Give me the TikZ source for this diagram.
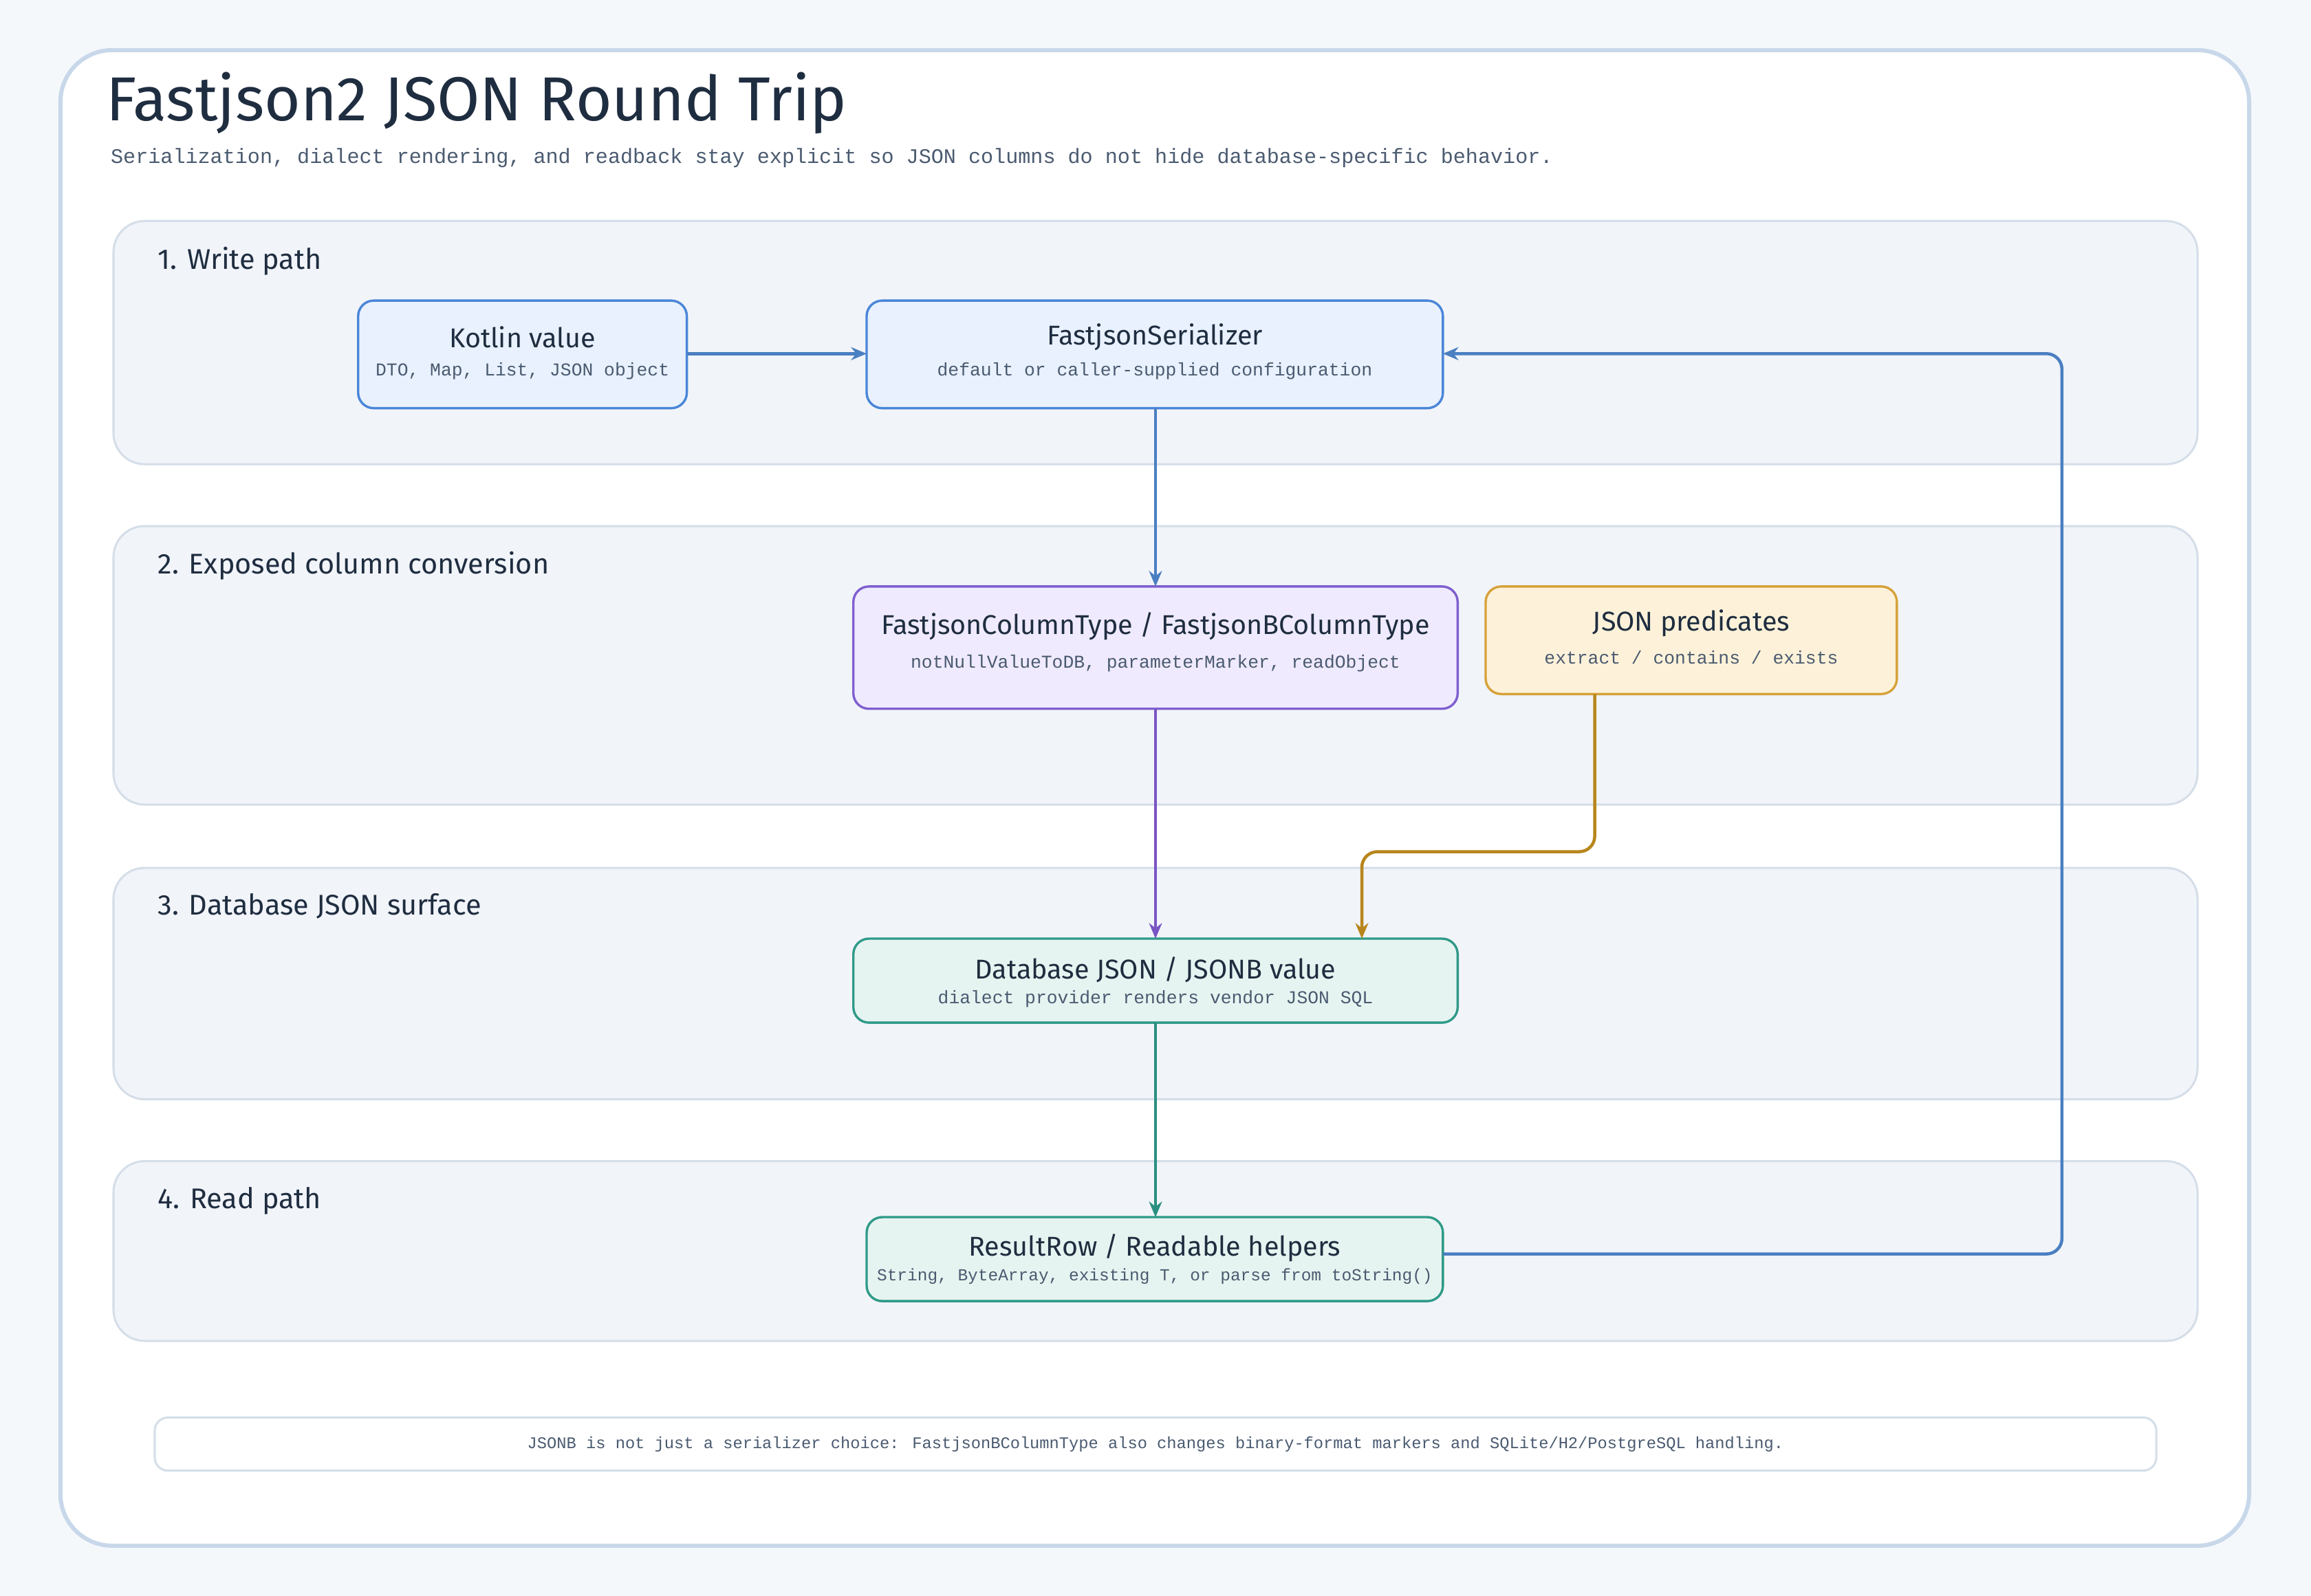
\documentclass[tikz,border=0pt]{standalone}
\usepackage{fontspec}
\setmainfont{Fira Sans}
\newfontfamily\mono{Liberation Mono}
\usetikzlibrary{arrows.meta}
\definecolor{bg}{HTML}{F5F8FB}
\definecolor{frame}{HTML}{C8D8EA}
\definecolor{lanef}{HTML}{F1F4F9}
\definecolor{lanes}{HTML}{D5DEE8}
\definecolor{ink}{HTML}{1F2D40}
\definecolor{sub}{HTML}{4A5A70}
\definecolor{bluef}{HTML}{E8F1FD}\definecolor{blues}{HTML}{4A86D8}\definecolor{bluea}{HTML}{4A7FC1}
\definecolor{purf}{HTML}{EFEAFD}\definecolor{purs}{HTML}{7F5FCF}\definecolor{pura}{HTML}{7A55C4}
\definecolor{orf}{HTML}{FDF2D9}\definecolor{ors}{HTML}{D6A23A}\definecolor{ora}{HTML}{B8861C}
\definecolor{tef}{HTML}{E6F4F1}\definecolor{tes}{HTML}{2F9A88}\definecolor{tea}{HTML}{2A8F80}
\tikzset{
 lane/.style={draw=lanes,fill=lanef,rounded corners=12pt,line width=0.8pt},
 lanelab/.style={anchor=west,text=ink,font=\fontsize{11}{13}\selectfont},
 box/.style={rounded corners=6pt,line width=0.9pt,align=center,text=ink},
 btitle/.style={font=\fontsize{10.5}{12}\selectfont,text=ink},
 bsub/.style={font=\mono\fontsize{7}{8}\selectfont,text=sub},
 arr/.style={line width=1.2pt,-{Stealth[length=6pt,width=5pt]},rounded corners=6pt},
}
\begin{document}
\begin{tikzpicture}[x=0.02cm,y=-0.02cm]
\fill[bg] (0,0) rectangle (1568,1083);
\useasboundingbox (0,0) rectangle (1568,1083);
\draw[frame,fill=white,line width=1.6pt,rounded corners=20pt] (41,34) rectangle (1526,1049);
\node[anchor=west,text=ink,font=\fontsize{24}{28}\selectfont] (title) at (66,70) {Fastjson2 JSON Round Trip};
\node[anchor=west,text=sub,font=\mono\fontsize{8}{10}\selectfont] (subt) at (69,107) {Serialization, dialect rendering, and readback stay explicit so JSON columns do not hide database-specific behavior.};
\draw[lane] (77,150) rectangle (1491,315);
\node[lanelab] (l1) at (101,177) {1. Write path};
\draw[lane] (77,357) rectangle (1491,546);
\node[lanelab] (l2) at (101,384) {2. Exposed column conversion};
\draw[lane] (77,589) rectangle (1491,746);
\node[lanelab] (l3) at (101,615) {3. Database JSON surface};
\draw[lane] (77,788) rectangle (1491,910);
\node[lanelab] (l4) at (101,815) {4. Read path};
% boxes
\draw[box,fill=bluef,draw=blues] (243,204) rectangle (466,277);
\node[btitle] (kt) at (354.5,229) {Kotlin value};
\node[bsub] (ks) at (354.5,252) {DTO, Map, List, JSON object};
\draw[box,fill=bluef,draw=blues] (588,204) rectangle (979,277);
\node[btitle] (st) at (783.5,229) {FastjsonSerializer};
\node[bsub] (ss) at (783.5,252) {default or caller-supplied configuration};
\draw[box,fill=purf,draw=purs] (579,398) rectangle (989,481);
\node[btitle] (ct) at (784,425) {FastjsonColumnType / FastjsonBColumnType};
\node[bsub] (cs) at (784,450) {notNullValueToDB, parameterMarker, readObject};
\draw[box,fill=orf,draw=ors] (1008,398) rectangle (1287,471);
\node[btitle] (pt) at (1147.5,423) {JSON predicates};
\node[bsub] (ps) at (1147.5,446) {extract / contains / exists};
\draw[box,fill=tef,draw=tes] (579,637) rectangle (989,694);
\node[btitle] (dt) at (784,658) {Database JSON / JSONB value};
\node[bsub] (ds) at (784,678) {dialect provider renders vendor JSON SQL};
\draw[box,fill=tef,draw=tes] (588,826) rectangle (979,883);
\node[btitle] (rt) at (783.5,847) {ResultRow / Readable helpers};
\node[bsub,font=\mono\fontsize{6.5}{8}\selectfont] (rs) at (783.5,866) {String, ByteArray, existing T, or parse from toString()};
\draw[draw=lanes,fill=white,rounded corners=5pt,line width=0.8pt] (105,962) rectangle (1463,998);
\node[font=\mono\fontsize{6.3}{8}\selectfont,text=sub] (note) at (784,980) {JSONB is not just a serializer choice: FastjsonBColumnType also changes binary-format markers and SQLite/H2/PostgreSQL handling.};
% anchors
\coordinate (kR) at (466,240); \coordinate (sL) at (588,240);
\coordinate (sB) at (784,277); \coordinate (cT) at (784,398);
\coordinate (cB) at (784,481); \coordinate (dT) at (784,637);
\coordinate (pB) at (1082,471); \coordinate (dT2) at (924,637);
\coordinate (dB) at (784,694); \coordinate (rT) at (784,826);
\coordinate (rR) at (979,851); \coordinate (sR) at (979,240);
\draw[arr,bluea] (kR) -- (sL);
\draw[arr,bluea] (sB) -- (cT);
\draw[arr,pura] (cB) -- (dT);
\draw[arr,ora] (pB) -- (1082,578) -- (924,578) -- (dT2);
\draw[arr,tea] (dB) -- (rT);
\draw[arr,bluea] (rR) -- (1399,851) -- (1399,240) -- (sR);
\end{tikzpicture}
\end{document}
